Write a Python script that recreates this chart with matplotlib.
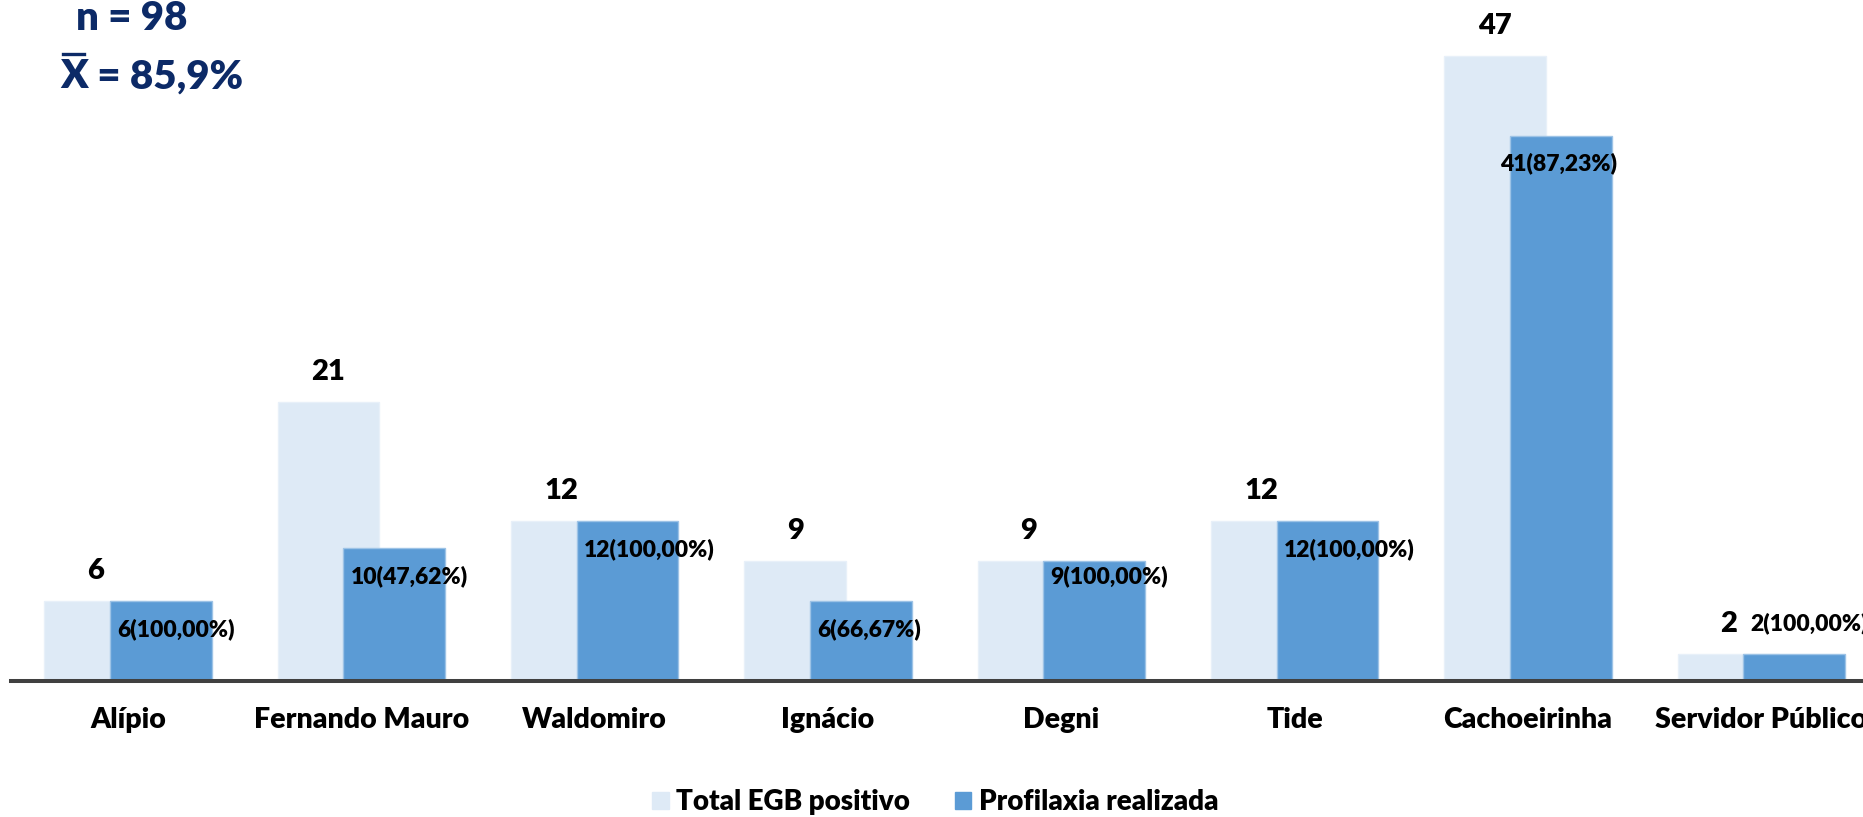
# Total EGB positivo x Profilaxia realizada, by unit
import numpy as np
import matplotlib.pyplot as plt
from matplotlib.lines import Line2D

plt.rcParams['font.family'] = ['Lato', 'DejaVu Sans']
W = 'heavy'

# Data
categories = ['Alípio', 'Fernando Mauro', 'Waldomiro', 'Ignácio',
              'Degni', 'Tide', 'Cachoeirinha', 'Servidor Público']
total_egb = [6, 21, 12, 9, 9, 12, 47, 2]
profilaxia = [6, 10, 12, 6, 9, 12, 41, 2]
profilaxia_labels = ['6(100,00%)', '10(47,62%)', '12(100,00%)', '6(66,67%)',
                     '9(100,00%)', '12(100,00%)', '41(87,23%)', '2(100,00%)']
n_total = 98
media = '85,9%'

# Colors
light = '#DEEAF6'
dark = '#5B9BD5'
navy = '#0C2A67'

fig = plt.figure(figsize=(18.63, 8.17), dpi=100)
ax = fig.add_axes([11.3 / 1863, 0.1665, 1866.7 / 1863, 0.8335])

x = np.arange(len(categories))
width = 0.435
off = 0.141

ax.bar(x - off, total_egb, width, color=light, edgecolor='#E8F0F9', linewidth=1, zorder=2)
ax.bar(x + off, profilaxia, width, color=dark, edgecolor='#9DC3E6', linewidth=1, zorder=3)

ax.set_xlim(-0.5, 7.5)
ax.set_ylim(0, 51.2)

# value labels on top of light bars
for i, v in enumerate(total_egb):
    ax.annotate(str(v), (x[i] - off, v), xytext=(0, 30), textcoords='offset pixels',
                ha='center', va='center', fontsize=21, fontweight=W, zorder=5)

# labels of the dark bars (a few were moved by hand in the original)
dx = [7] * len(categories)
dy = [-28] * len(categories)
dx[6] = -10
dy[4] = -15
dy[7] = 31
for i, v in enumerate(profilaxia):
    ax.annotate(profilaxia_labels[i], (x[i] + off - width / 2, v),
                xytext=(dx[i], dy[i]), textcoords='offset pixels',
                ha='left', va='center', fontsize=16.5, fontweight=W, zorder=5,
                annotation_clip=False)

# axes styling
for s in ['top', 'right', 'left']:
    ax.spines[s].set_visible(False)
ax.spines['bottom'].set_color('#404040')
ax.spines['bottom'].set_linewidth(2.9)
ax.spines['bottom'].set_zorder(4)
ax.set_yticks([])
ax.set_xticks(x)
ax.set_xticklabels(categories, fontsize=20.5, fontweight=W)
ax.tick_params(axis='x', length=0, pad=19)

# n and mean (bar over the X drawn as a line)
fig.text(76 / 1863, 1 - 19 / 817, f'n = {n_total}', fontsize=29, fontweight=W,
         color=navy, ha='left', va='center')
tx = fig.text(60 / 1863, 1 - 77 / 817, 'X', fontsize=29, fontweight=W,
              color=navy, ha='left', va='center')
ax.annotate(' = ' + media, xy=(1, 0.5), xycoords=tx, fontsize=29, fontweight=W,
            color=navy, ha='left', va='center', annotation_clip=False)
bb = tx.get_window_extent(fig.canvas.get_renderer())
fx0 = (bb.x0 + 0.12 * bb.width) / 1863
fx1 = (bb.x1 - 0.12 * bb.width) / 1863
fy = (bb.y1 + 5) / 817
fig.add_artist(Line2D([fx0, fx1], [fy, fy], color=navy, lw=2.4, transform=fig.transFigure))

# legend
h1 = plt.Rectangle((0, 0), 1, 1, color=light)
h2 = plt.Rectangle((0, 0), 1, 1, color=dark)
fig.legend([h1, h2], ['Total EGB positivo', 'Profilaxia realizada'],
           loc='center', bbox_to_anchor=(0.502, 1 - 802 / 817), ncol=2, frameon=False,
           prop={'size': 20, 'weight': W}, handlelength=0.58, handleheight=0.58,
           handletextpad=0.28, columnspacing=1.6)

plt.savefig('out.png', dpi=100)
